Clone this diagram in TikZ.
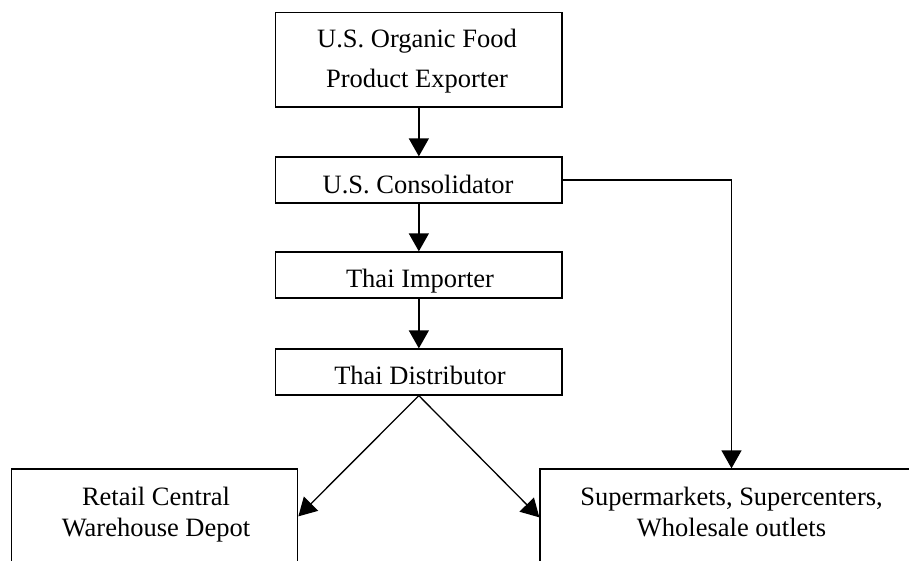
\documentclass[tikz,border=0pt]{standalone}
\usepackage{fontspec}
\setmainfont{Liberation Serif}
\usetikzlibrary{arrows.meta}
\begin{document}
\begin{tikzpicture}[x=1pt,y=-1pt,
  box/.style={draw=black, line width=1.3pt, rectangle, inner sep=0pt},
  txt/.style={anchor=base, inner sep=0pt, font=\fontsize{26.5}{32}\selectfont},
  link/.style={draw=black, line width=1.3pt, -{Triangle[length=18pt,width=20pt]}}]
\useasboundingbox (0,0) rectangle (909,560);
\clip (0,0) rectangle (909,560);
% boxes
\node[box, minimum width=286.3pt, minimum height=94.5pt] (b1) at (418.85,59.75) {};
\node[box, minimum width=286.3pt, minimum height=46pt] (b2) at (418.85,180) {};
\node[box, minimum width=286.3pt, minimum height=46pt] (b3) at (418.85,275) {};
\node[box, minimum width=286.3pt, minimum height=46pt] (b4) at (418.85,372) {};
\node[box, minimum width=286pt, minimum height=160pt] (b5) at (154.7,549) {};
\node[box, minimum width=383pt, minimum height=160pt] (b6) at (731.5,549) {};
% texts
\node[txt] (t1a) at (417,47) {U.S. Organic Food};
\node[txt] (t1b) at (417,87) {Product Exporter};
\node[txt] (t2) at (418,193) {U.S. Consolidator};
\node[txt] (t3) at (420,287.3) {Thai Importer};
\node[txt] (t4) at (420,384) {Thai Distributor};
\node[txt] (t5a) at (156,505) {Retail Central};
\node[txt] (t5b) at (156,536.7) {Warehouse Depot};
\node[txt] (t6a) at (731.5,505) {Supermarkets, Supercenters,};
\node[txt] (t6b) at (731.5,536.5) {Wholesale outlets};
% connectors
\draw[link] (b1.south) -- (b2.north);
\draw[link] (b2.south) -- (b3.north);
\draw[link] (b3.south) -- (b4.north);
\draw[link] (b4.south) -- ([yshift=-48pt]b5.north east);
\draw[link] (b4.south) -- ([yshift=-49pt]b6.north west);
\draw[link] (b2.east) -| (b6.north);
\end{tikzpicture}
\end{document}
